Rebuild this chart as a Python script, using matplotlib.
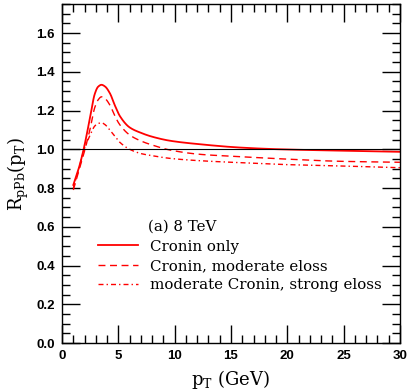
import numpy as np
import matplotlib
matplotlib.use("Agg")
import matplotlib.pyplot as plt
from matplotlib.ticker import MultipleLocator, FormatStrFormatter

# values
pt = [1.0, 1.5, 1.9, 2.5, 2.9, 3.2, 3.5, 3.8, 4.25, 4.7, 5.15, 6.0, 7.0, 8.0, 9.6,
      12.25, 15.8, 19.35, 24.7, 30.0]
cronin_only = [0.816, 0.905, 0.996, 1.168, 1.285, 1.323, 1.333, 1.325, 1.289, 1.225,
               1.17, 1.113, 1.085, 1.065, 1.044, 1.026, 1.009, 1.0, 0.993, 0.987]
cronin_mod = [0.79, 0.89, 0.97, 1.108, 1.215, 1.255, 1.271, 1.263, 1.228, 1.17,
              1.125, 1.074, 1.043, 1.022, 0.996, 0.974, 0.962, 0.951, 0.938, 0.933]
mod_strong = [0.80, 0.90, 0.99, 1.074, 1.12, 1.133, 1.137, 1.128, 1.099, 1.066,
              1.035, 1.0, 0.978, 0.967, 0.953, 0.941, 0.931, 0.922, 0.914, 0.905]
labels = ["Cronin only", "Cronin, moderate eloss", "moderate Cronin, strong eloss"]


def pchip(x, y, xs):
    # monotone cubic interpolation, keeps the curves smooth between read points
    x = np.asarray(x); y = np.asarray(y)
    h = np.diff(x); d = np.diff(y) / h
    m = np.zeros_like(y)
    for k in range(1, len(x) - 1):
        if d[k - 1] * d[k] > 0:
            w1 = 2 * h[k] + h[k - 1]; w2 = h[k] + 2 * h[k - 1]
            m[k] = (w1 + w2) / (w1 / d[k - 1] + w2 / d[k])
    m[0] = d[0]; m[-1] = d[-1]
    idx = np.clip(np.searchsorted(x, xs) - 1, 0, len(h) - 1)
    t = (xs - x[idx]) / h[idx]
    h00 = 2 * t**3 - 3 * t**2 + 1; h10 = t**3 - 2 * t**2 + t
    h01 = -2 * t**3 + 3 * t**2; h11 = t**3 - t**2
    return h00 * y[idx] + h10 * h[idx] * m[idx] + h01 * y[idx + 1] + h11 * h[idx] * m[idx + 1]


fig = plt.figure(figsize=(4.11, 3.90), dpi=100)
ax = fig.add_axes([0.151, 0.1205, 0.822, 0.8692])

xs = np.linspace(pt[0], pt[-1], 800)
ax.plot(xs, pchip(pt, cronin_only, xs), color="red", lw=1.3, ls="-", label=labels[0])
ax.plot(xs, pchip(pt, cronin_mod, xs), color="red", lw=1.0, ls=(0, (5, 3.3)), label=labels[1])
ax.plot(xs, pchip(pt, mod_strong, xs), color="red", lw=1.0, ls=(0, (3.6, 2.2, 1, 2.2)), label=labels[2])
ax.axhline(1.0, color="black", lw=0.8)

ax.set_xlim(0, 30)
ax.set_ylim(0, 1.75)
ax.xaxis.set_major_locator(MultipleLocator(5))
ax.xaxis.set_minor_locator(MultipleLocator(1))
ax.yaxis.set_major_locator(MultipleLocator(0.2))
ax.yaxis.set_minor_locator(MultipleLocator(0.05))
ax.yaxis.set_major_formatter(FormatStrFormatter("%.1f"))
ax.tick_params(which="both", direction="in", top=True, right=True, width=1)
ax.tick_params(which="major", length=13, labelsize=9.5, pad=5)
ax.tick_params(which="minor", length=6)
for lab in ax.get_xticklabels() + ax.get_yticklabels():
    lab.set_fontweight("bold")
    lab.set_family("Liberation Sans")
for s in ax.spines.values():
    s.set_linewidth(1)

ax.set_xlabel(r"p$_\mathregular{T}$ (GeV)", family="DejaVu Serif", fontsize=13)
ax.set_ylabel(r"R$_\mathregular{pPb}$(p$_\mathregular{T}$)", family="DejaVu Serif", fontsize=13)

ax.text(7.63, 0.60, "(a) 8 TeV", family="DejaVu Serif", fontsize=10.8, va="center")
ax.legend(loc="upper left", bbox_to_anchor=(0.065, 0.345), frameon=False,
          prop={"family": "DejaVu Serif", "size": 10.8}, handlelength=2.7,
          handletextpad=0.8, labelspacing=0.35, borderpad=0.4)

fig.savefig("out.png", dpi=100)
